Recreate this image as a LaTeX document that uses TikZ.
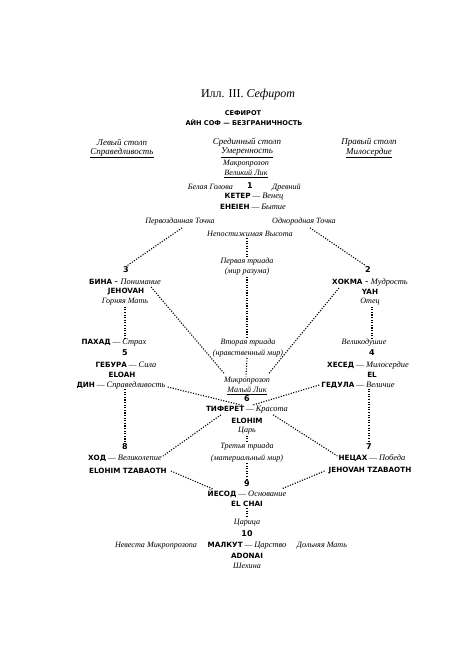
\documentclass[tikz,border=0pt]{standalone}
\usepackage{fontspec}
\setmainfont{Liberation Serif}
\newfontfamily\bsans{DejaVu Sans}
\usetikzlibrary{calc}
\newcommand{\bsf}[1]{{\bsans\bfseries\fontsize{7.2}{9}\selectfont #1}}
\newcommand{\itx}[1]{{\itshape\fontsize{8.4}{9}\selectfont #1}}
\newcommand{\dsh}{{\fontsize{7.8}{9}\selectfont\ —\ }}
\tikzset{
  it/.style={inner sep=0pt, font=\fontsize{8.1}{9}\selectfont\itshape},
  hd/.style={inner sep=0pt, font=\fontsize{9}{10}\selectfont\itshape},
  bs/.style={inner sep=0pt, font=\fontsize{7.2}{9}\selectfont\bsans\bfseries},
  hb/.style={inner sep=0pt, font=\fontsize{6.6}{8}\selectfont\bsans\bfseries},
  num/.style={inner sep=0pt, font=\fontsize{8}{9}\selectfont\bsans\bfseries},
  mix/.style={inner sep=0pt},
  dl/.style={line width=1.1pt, dash pattern=on 1.1pt off 1.5pt},
}
\begin{document}
\begin{tikzpicture}[x=1pt,y=-1pt]
\useasboundingbox (0,0) rectangle (468,666);
\fill[white] (0,0) rectangle (468,666);
% title
\node[inner sep=0pt, font=\fontsize{12}{14}\selectfont] (title) at (248,95) {Илл. III. \textit{Сефирот}};
\node[hb] (sef) at (243,113) {СЕФИРОТ};
\node[hb] (ayn) at (244,122) {АЙН СОФ — БЕЗГРАНИЧНОСТЬ};
% columns
\node[hd] (lc1) at (122,142) {Левый столп};
\node[hd] (lc2) at (122,153) {\underline{Справедливость}};
\node[hd] (mc1) at (247,142) {Срединный столп};
\node[hd] (mc2) at (247,153) {\underline{Умеренность}};
\node[hd] (rc1) at (369,142) {Правый столп};
\node[hd] (rc2) at (369,153) {\underline{Милосердие}};
% kether
\node[it] (makro) at (246,164) {Макропрозоп};
\node[it] (velik) at (246,174) {\underline{Великий Лик}};
\node[num] (n1) at (250,186) {1};
\node[it, anchor=east] (belaya) at (233,187) {Белая Голова};
\node[it, anchor=west] (drev) at (272,187) {Древний};
\node[mix] (keter) at (254,197) {\bsf{КЕТЕР}\dsh\itx{Венец}};
\node[mix] (eheie) at (253,207) {\bsf{ЕНЕIЕН}\dsh\itx{Бытие}};
\node[it] (pervo) at (180,222) {Первозданная Точка};
\node[it] (odno) at (304,222) {Однородная Точка};
\node[it] (nepost) at (250,234) {Непостижимая Высота};
\node[it] (tr1a) at (247,262) {Первая триада};
\node[it] (tr1b) at (247,272) {(мир разума)};
% binah
\node[num] (n3) at (126,270) {3};
\node[mix] (bina) at (125,282) {\bsf{БИНА}\ -\ \itx{Понимание}};
\node[bs] (jeh) at (126,292) {JEHOVAH};
\node[it] (gorn) at (125,302) {Горняя Мать};
% chokmah
\node[num] (n2) at (368,270) {2};
\node[mix] (hokma) at (370,282) {\bsf{ХОКМА}\ -\ \itx{Мудрость}};
\node[bs] (yah) at (370,292) {YAH};
\node[it] (otets) at (370,302) {Отец};
% geburah
\node[mix] (pahad) at (114,343) {\bsf{ПАХАД}\dsh\itx{Страх}};
\node[num] (n5) at (125,353) {5};
\node[mix] (gebura) at (126,365) {\bsf{ГЕБУРА}\dsh\itx{Сила}};
\node[bs] (eloah) at (122,375) {ELOAH};
\node[mix] (din) at (121,385) {\bsf{ДИН}\dsh\itx{Справедливость}};
% chesed
\node[it] (velikod) at (364,343) {Великодушие};
\node[num] (n4) at (372,353) {4};
\node[mix] (hesed) at (368,365) {\bsf{ХЕСЕД}\dsh\itx{Милосердие}};
\node[bs] (el) at (372,375) {EL};
\node[mix] (gedula) at (358,385) {\bsf{ГЕДУЛА}\dsh\itx{Величие}};
% second triad
\node[it] (tr2a) at (248,343) {Вторая триада};
\node[it] (tr2b) at (248,353) {(нравственный мир)};
% tiphereth
\node[it] (mikro) at (247,381) {Микропрозоп};
\node[it] (maly) at (247,391) {\underline{Малый Лик}};
\node[num] (n6) at (247,399) {6};
\node[mix] (tif) at (247,410) {\bsf{ТИФЕРЕТ}\dsh\itx{Красота}};
\node[bs] (elohim) at (247,421) {ELOHIM};
\node[it] (tsar) at (247,431) {Царь};
% hod
\node[num] (n8) at (125,447) {8};
\node[mix] (hod) at (125,458) {\bsf{ХОД}\dsh\itx{Великолепие}};
\node[bs] (eltz) at (128,471) {ELOHIM TZABAOTH};
% third triad
\node[it] (tr3a) at (247,447) {Третья триада};
\node[it] (tr3b) at (247,458) {(материальный мир)};
% netzach
\node[num] (n7) at (369,447) {7};
\node[mix] (netsah) at (372,458) {\bsf{НЕЦАХ}\dsh\itx{Победа}};
\node[bs] (jehtz) at (370,471) {JEHOVAH TZABAOTH};
% yesod
\node[num] (n9) at (247,484) {9};
\node[mix] (yesod) at (247,494) {\bsf{ЙЕСОД}\dsh\itx{Основание}};
\node[bs] (elchai) at (247,504) {EL CHAI};
\node[it] (tsaritsa) at (247,523) {Царица};
% malkuth
\node[num] (n10) at (247,534) {10};
\node[mix] (malkut) at (247,546) {\bsf{МАЛКУТ}\dsh\itx{Царство}};
\node[it] (nevesta) at (156,546) {Невеста Микропрозопа};
\node[it] (dolnya) at (322,546) {Дольняя Мать};
\node[bs] (adonai) at (247,556) {ADONAI};
\node[it] (shehina) at (247,566) {Шехина};
% connectors
\draw[dl] ($(pervo.south)+(2,2)$) -- ($(n3.north)+(1,-1)$);
\draw[dl] ($(odno.south)+(6,2)$) -- ($(n2.north)+(-2,-1)$);
\draw[dl] ($(nepost.south)+(-3,1)$) -- ($(tr1a.north)+(0,-1)$);
\draw[dl] ($(tr1b.south)+(0,1)$) -- ($(tr2a.north)+(-1,-1)$);
\draw[dl] ($(bina.south east)+(-10,2)$) -- ($(mikro.north west)+(1,-3)$);
\draw[dl] ($(hokma.south west)+(7,2)$) -- ($(mikro.north east)+(-2,-3)$);
\draw[dl] ($(gorn.south)+(0,1)$) -- ($(gorn.south |- pahad.north)+(0,-1)$);
\draw[dl] ($(otets.south)+(2,1)$) -- ($(otets.south |- velikod.north)+(2,-1)$);
\draw[dl] ($(tr2b.south)+(-1,1)$) -- ($(mikro.north)+(-1,-1)$);
\draw[dl] ($(din.east)+(2,2)$) -- ($(n6.south west)+(-2,3)$);
\draw[dl] ($(gedula.west)+(-2,0)$) -- ($(n6.south east)+(2,3)$);
\draw[dl] (n8.north |- din.south) -- ($(n8.north)+(0,-1)$);
\draw[dl] (n7.north |- gedula.south) -- ($(n7.north)+(0,-1)$);
\draw[dl] ($(tif.south west)+(15,1)$) -- ($(hod.east)+(1,-2)$);
\draw[dl] ($(tif.south east)+(-15,1)$) -- ($(netsah.west)+(-1,-2)$);
\draw[dl] ($(tsar.south)+(0,1)$) -- ($(tr3a.north)+(0,-1)$);
\draw[dl] ($(tr3b.south)+(0,1)$) -- ($(n9.north)+(0,-1)$);
\draw[dl] ($(eltz.east)+(4,0)$) -- ($(yesod.north west)+(5,-1)$);
\draw[dl] ($(jehtz.west)+(-4,0)$) -- ($(yesod.north east)+(-5,-1)$);
\draw[dl] ($(elchai.south)+(0,1)$) -- ($(tsaritsa.north)+(0,-1)$);
\end{tikzpicture}
\end{document}
